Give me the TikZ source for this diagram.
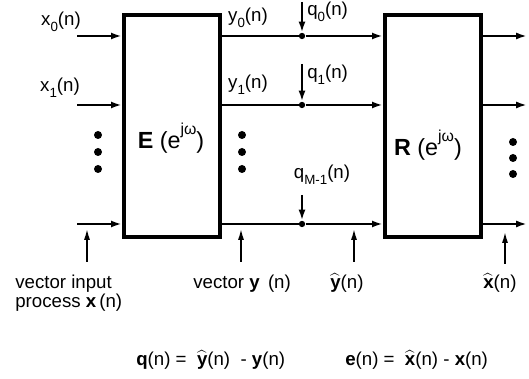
\documentclass[tikz,border=0pt]{standalone}
\usepackage{fontspec}
\setmainfont{Liberation Sans}
\usetikzlibrary{arrows.meta}
\newcommand{\subs}[1]{\raisebox{-0.65ex}{\fontsize{8}{9}\selectfont #1}}
\newcommand{\sups}[1]{\raisebox{1.1ex}{\fontsize{9.5}{10}\selectfont #1}}
\newcommand{\hatb}[1]{$\widehat{\mbox{\textbf{#1}}}$}
\begin{document}
\begin{tikzpicture}[
  x=0.6pt, y=-0.6pt,
  every node/.style={font=\fontsize{11.2}{13}\selectfont, inner sep=0pt},
  wire/.style={line width=1.3pt},
  sig/.style={wire, -{Latex[length=6.5pt,width=4.2pt]}},
  tap/.style={line width=0.9pt, -{Latex[length=6.5pt,width=3.6pt]}},
  blk/.style={draw, line width=2.6pt, minimum width=96*0.6pt, minimum height=222*0.6pt},
  vdot/.style={circle, fill, minimum size=4.8pt},
  jdot/.style={circle, fill, minimum size=3.8pt}
]
% frame of the page
\useasboundingbox (0,0) rectangle (529,379);
% Blocks
\node[blk] (E) at (172,126) {};
\node[blk] (R) at (433,126) {};
\node (Elab) at (171,138) {\fontsize{14}{16}\selectfont\textbf{E} (e\sups{jω})};
\node (Rlab) at (428,145) {\fontsize{14}{16}\selectfont\textbf{R} (e\sups{jω})};
% Inputs
\coordinate (x0) at (77,36);
\coordinate (x1) at (77,105);
\coordinate (xm) at (77,224);
\draw[sig] (x0) -- (x0 -| E.west);
\draw[sig] (x1) -- (x1 -| E.west);
\draw[sig] (xm) -- (xm -| E.west);
\node (x0lab) at (61,22) {x\subs{0}(n)};
\node (x1lab) at (60,88) {x\subs{1}(n)};
% Quantizer taps
\node[jdot] (j0) at (302,36) {};
\node[jdot] (j1) at (302,105) {};
\node[jdot] (jm) at (302,224) {};
\foreach \j in {j0,j1,jm} {
  \draw[wire] (E.east |- \j) -- (\j);
  \draw[sig] (\j) -- (\j -| R.west);
}
\coordinate (q0) at (302,2);
\coordinate (q1) at (302,64);
\coordinate (qm) at (302,195);
\draw[sig] (q0) -- (j0);
\draw[sig] (q1) -- (j1);
\draw[sig] (qm) -- (jm);
\node (y0lab) at (248,18) {y\subs{0}(n)};
\node (y1lab) at (248,85) {y\subs{1}(n)};
\node[anchor=west] (q0lab) at (307,12) {q\subs{0}(n)};
\node[anchor=west] (q1lab) at (307,75) {q\subs{1}(n)};
\node (qmlab) at (322,175) {q\subs{M-1}(n)};
% Outputs
\coordinate (o0) at (527,36);
\coordinate (o1) at (527,105);
\coordinate (om) at (527,224);
\draw[sig] (R.east |- o0) -- (o0);
\draw[sig] (R.east |- o1) -- (o1);
\draw[sig] (R.east |- om) -- (om);
% Dots
\foreach \dy [count=\k] in {135,152,169} {
  \node[vdot] (ld\k) at (98,\dy) {};
  \node[vdot] (md\k) at (242,\dy) {};
}
\foreach \dy [count=\k] in {142,158,174} {
  \node[vdot] (rd\k) at (513,\dy) {};
}
% Pointers
\coordinate (p1) at (87,262);   \coordinate (t1) at (87,229);
\coordinate (p2) at (241,262);  \coordinate (t2) at (241,229);
\coordinate (p3) at (354,262);  \coordinate (t3) at (354,229);
\coordinate (p4) at (505,264);  \coordinate (t4) at (505,232);
\foreach \k in {1,...,4} \draw[tap] (p\k) -- (t\k);
\node[anchor=west] (inlab) at (15,284) {vector input};
\node[anchor=west] (prlab) at (15,303) {process \textbf{x}\,(n)};
\node[anchor=west] (yvlab) at (193,284) {vector \textbf{y}\ \,(n)};
\node[anchor=west] (yhlab) at (330,283) {\hatb{y}(n)};
\node[anchor=west] (xhlab) at (483,283) {\hatb{x}(n)};
% Error relations
\node[anchor=west] (qeq) at (136,360) {\textbf{q}(n) =\ \ \hatb{y}(n)\ \ - \textbf{y}(n)};
\node[anchor=west] (eeq) at (345,360) {\textbf{e}(n) =\ \ \hatb{x}(n)\ - \textbf{x}(n)};
\end{tikzpicture}
\end{document}
